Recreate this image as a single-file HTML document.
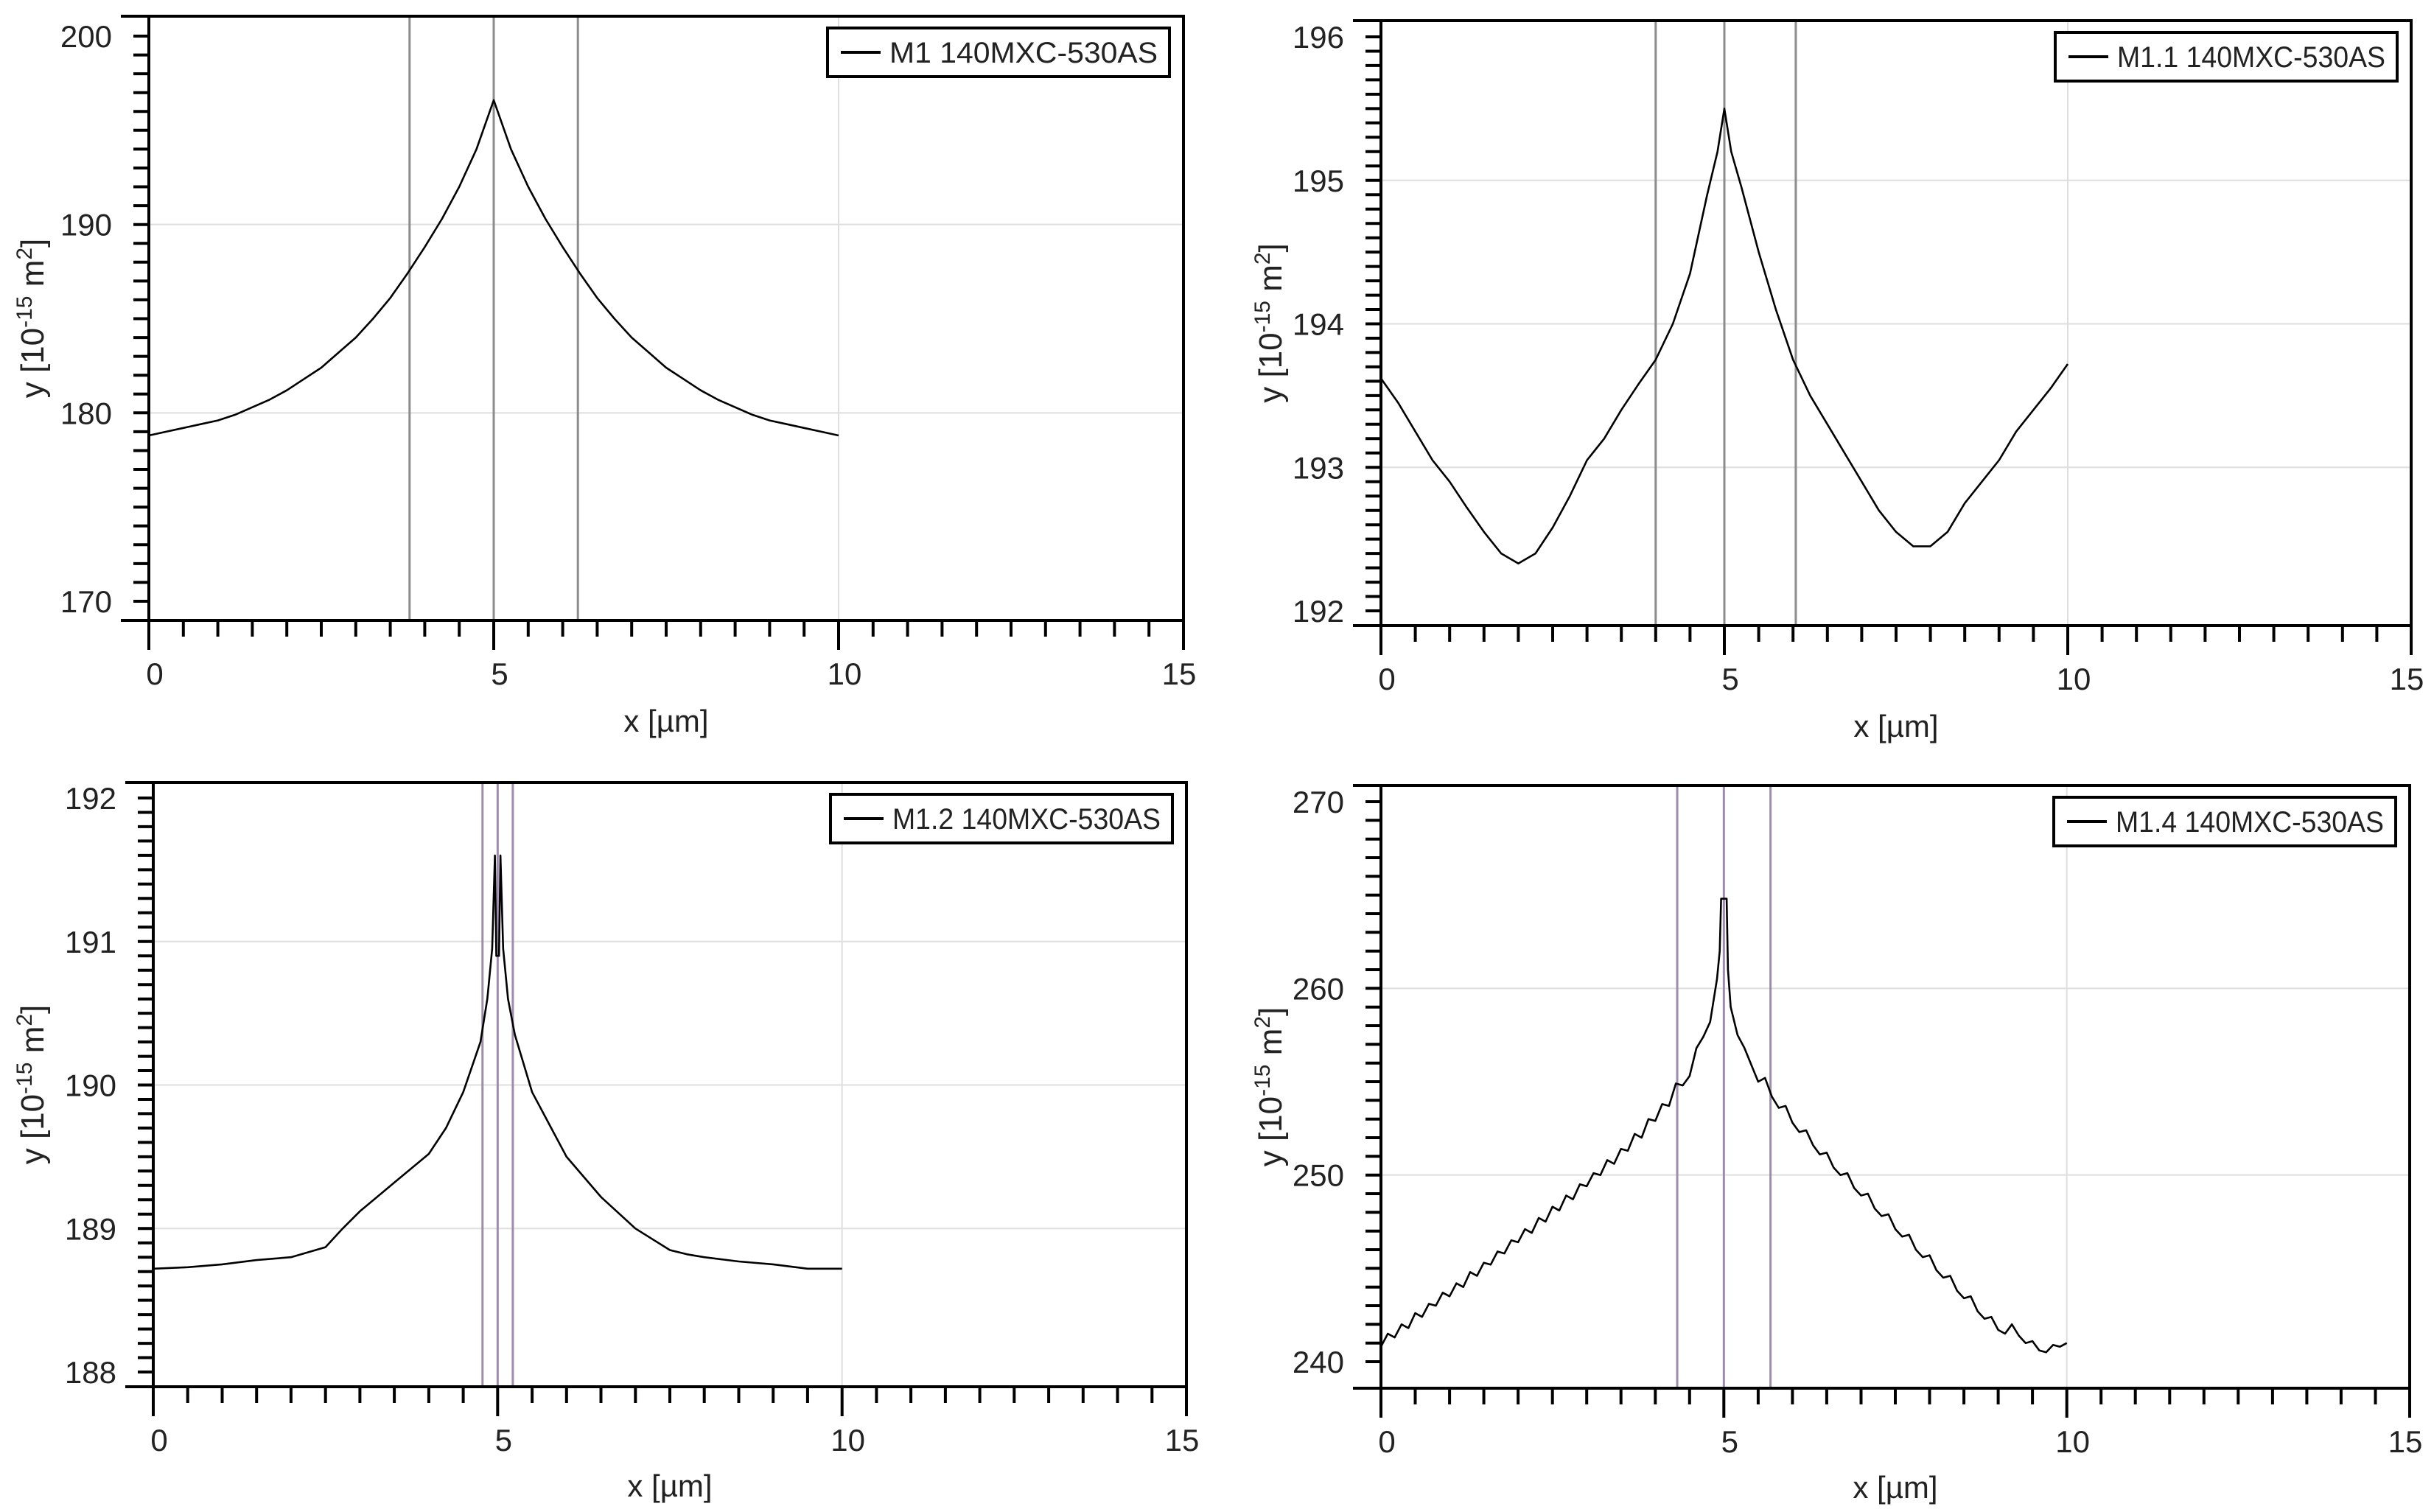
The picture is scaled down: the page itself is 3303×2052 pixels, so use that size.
<!DOCTYPE html>
<html><head><meta charset="utf-8"><style>
html,body{margin:0;padding:0;background:#fff;}
svg{display:block;font-family:"Liberation Sans",sans-serif;}
</style></head><body>
<svg id="chart" width="3303" height="2052" viewBox="0 0 3303 2052" xmlns="http://www.w3.org/2000/svg"></svg>
<script>
// ---- data ----
const tlX = [0,0.25,0.5,0.75,1,1.25,1.5,1.75,2,2.25,2.5,2.75,3,3.25,3.5,3.75,4,4.25,4.5,4.75,5,5.25,5.5,5.75,6,6.25,6.5,6.75,7,7.25,7.5,7.75,8,8.25,8.5,8.75,9,9.25,9.5,9.75,10];
const tlY = [178.8,179.0,179.2,179.4,179.6,179.9,180.3,180.7,181.2,181.8,182.4,183.2,184.0,185.0,186.1,187.4,188.8,190.3,192.0,194.0,196.6,194.0,192.0,190.3,188.8,187.4,186.1,185.0,184.0,183.2,182.4,181.8,181.2,180.7,180.3,179.9,179.6,179.4,179.2,179.0,178.8];
const trX = [0,0.25,0.5,0.75,1,1.25,1.5,1.75,2,2.25,2.5,2.75,3,3.25,3.5,3.75,4,4.25,4.5,4.75,4.9,5,5.1,5.25,5.5,5.75,6,6.25,6.5,6.75,7,7.25,7.5,7.75,8,8.25,8.5,8.75,9,9.25,9.5,9.75,10];
const trY = [193.62,193.45,193.25,193.05,192.9,192.72,192.55,192.4,192.33,192.4,192.58,192.8,193.05,193.2,193.4,193.58,193.75,194.0,194.35,194.9,195.2,195.5,195.2,194.95,194.5,194.1,193.75,193.5,193.3,193.1,192.9,192.7,192.55,192.45,192.45,192.55,192.75,192.9,193.05,193.25,193.4,193.55,193.72];
const blX = [0,0.5,1,1.5,2,2.5,2.75,3,3.5,4,4.25,4.5,4.75,4.85,4.92,4.96,4.98,5.02,5.04,5.08,5.15,5.25,5.5,6,6.5,7,7.5,7.75,8,8.5,9,9.5,10];
const blY = [188.72,188.73,188.75,188.78,188.8,188.87,189.0,189.12,189.32,189.52,189.7,189.95,190.3,190.6,190.95,191.6,190.9,190.9,191.6,190.95,190.6,190.35,189.95,189.5,189.22,189.0,188.85,188.82,188.8,188.77,188.75,188.72,188.72];
const brX = [0,0.1,0.2,0.3,0.4,0.5,0.6,0.7,0.8,0.9,1.0,1.1,1.2,1.3,1.4,1.5,1.6,1.7,1.8,1.9,2.0,2.1,2.2,2.3,2.4,2.5,2.6,2.7,2.8,2.9,3.0,3.1,3.2,3.3,3.4,3.5,3.6,3.7,3.8,3.9,4.0,4.1,4.2,4.3,4.4,4.5,4.6,4.7,4.8,4.9,4.94,4.96,5.04,5.06,5.1,5.2,5.3,5.4,5.5,5.6,5.7,5.8,5.9,6.0,6.1,6.2,6.3,6.4,6.5,6.6,6.7,6.8,6.9,7.0,7.1,7.2,7.3,7.4,7.5,7.6,7.7,7.8,7.9,8.0,8.1,8.2,8.3,8.4,8.5,8.6,8.7,8.8,8.9,9.0,9.1,9.2,9.3,9.4,9.5,9.6,9.7,9.8,9.9,10];
const brY = [240.8,241.5,241.3,242.0,241.8,242.6,242.4,243.1,243.0,243.7,243.5,244.2,244.0,244.8,244.6,245.3,245.2,245.9,245.8,246.5,246.4,247.1,246.9,247.7,247.5,248.3,248.1,248.9,248.7,249.5,249.4,250.1,250.0,250.8,250.6,251.4,251.3,252.2,252.0,253.0,252.9,253.8,253.7,254.9,254.8,255.3,256.8,257.4,258.2,260.5,262.0,264.8,264.8,261.0,259.0,257.5,256.8,255.9,255.0,255.2,254.2,253.6,253.7,252.8,252.3,252.4,251.6,251.1,251.2,250.4,250.0,250.1,249.3,248.9,249.0,248.2,247.8,247.9,247.1,246.7,246.8,246.0,245.6,245.7,244.9,244.5,244.6,243.8,243.4,243.5,242.7,242.3,242.4,241.7,241.5,242.0,241.4,241.0,241.1,240.6,240.5,240.9,240.8,241.0];
const xTickLabels = [0,5,10,15];
const tlYTicks = [170,180,190,200];
const trYTicks = [192,193,194,195,196];
const blYTicks = [188,189,190,191,192];
const brYTicks = [240,250,260,270];
const tlMarkers = [3.78,5,6.22];
const trMarkers = [4.0,5,6.04];
const blMarkers = [4.78,5,5.22];
const brMarkers = [4.32,5,5.68];

const NS = "http://www.w3.org/2000/svg";
const svg = document.getElementById('chart');
function mk(tag, attrs, parent){
  const e = document.createElementNS(NS, tag);
  for (const k in attrs) e.setAttribute(k, attrs[k]);
  (parent||svg).appendChild(e);
  return e;
}
const panels = [
  {id:'top-left', L:202,R:1606,T:22,A:842,yLo:170,pLo:816,yHi:200,pHi:49,minor:1,xs:tlX,ys:tlY,ticks:tlYTicks,markers:tlMarkers,mcol:'#8c8c8c',legend:'M1 140MXC-530AS',xl:914,xt:978,yt:44},
  {id:'top-right', L:1874,R:3272,T:28,A:849,yLo:192,pLo:829,yHi:196,pHi:50,minor:0.1,xs:trX,ys:trY,ticks:trYTicks,markers:trMarkers,mcol:'#8c8c8c',legend:'M1.1 140MXC-530AS',xl:921,xt:985,yt:1724},
  {id:'bottom-left', L:208,R:1610,T:1062,A:1882,yLo:188,pLo:1862,yHi:192,pHi:1083,minor:0.1,xs:blX,ys:blY,ticks:blYTicks,markers:blMarkers,mcol:'#9d8caa',legend:'M1.2 140MXC-530AS',xl:1954,xt:2016,yt:44},
  {id:'bottom-right', L:1874,R:3270,T:1066,A:1884,yLo:240,pLo:1848,yHi:270,pHi:1088,minor:1,xs:brX,ys:brY,ticks:brYTicks,markers:brMarkers,mcol:'#9d8caa',legend:'M1.4 140MXC-530AS',xl:1956,xt:2018,yt:1724}
];
panels.forEach(p=>{
  const g = mk('g',{});
  
  
  const sx = v => p.L + (v/15)*(p.R-p.L);
  const sy = v => p.pLo + (v-p.yLo)/(p.yHi-p.yLo)*(p.pHi-p.pLo);
  p.ticks.forEach(t=>{ if(t!==p.yLo && t!==p.yHi){ const l=mk('line',{x1:p.L,x2:p.R,y1:sy(t),y2:sy(t),stroke:'#dedede','stroke-width':2},g);   }});
  [5,10].forEach(t=>{ const l=mk('line',{x1:sx(t),x2:sx(t),y1:p.T,y2:p.A,stroke:'#dedede','stroke-width':2},g);   });
  p.markers.forEach(m=>{ const l=mk('line',{x1:sx(m),x2:sx(m),y1:p.T,y2:p.A,stroke:p.mcol,'stroke-width':3},g);   });
  const d = p.xs.map((x,i)=>(i?'L':'M')+sx(x).toFixed(1)+' '+sy(p.ys[i]).toFixed(1)).join(' ');
  const c = mk('path',{d:d,fill:'none',stroke:'#000','stroke-width':2.6,'stroke-linejoin':'round'},g);
  
  
  const fr = mk('path',{d:`M${p.L-38} ${p.T} H${p.R} V${p.A} M${p.L-38} ${p.A} H${p.R} M${p.L} ${p.T} V${p.A+40}`,fill:'none',stroke:'#000','stroke-width':4},g);
  
  
  let tp='';
  const n = Math.round((p.yHi-p.yLo)/p.minor);
  for(let i=0;i<=n;i++){ const v=p.yLo+i*p.minor; tp+=`M${p.L-21} ${sy(v).toFixed(1)} H${p.L}`; }
  for(let i=1;i<30;i++){ const v=i*0.5; const len=(i%10===0)?40:22; tp+=`M${sx(v).toFixed(1)} ${p.A} V${p.A+len}`; }
  const tk = mk('path',{d:tp,stroke:'#000','stroke-width':4,fill:'none'},g);
  
  
  mk('line',{x1:p.R,x2:p.R,y1:p.A,y2:p.A+40,stroke:'#000','stroke-width':4},g);
  p.ticks.forEach(t=>{ const tx=mk('text',{x:p.L-50,y:sy(t)+15,'text-anchor':'end','font-size':42,fill:'#222'},g); tx.textContent=t;   });
  xTickLabels.forEach(t=>{ const tx=mk('text',{x:sx(t)+(t===15?-6:8),y:p.xl+15,'text-anchor':'middle','font-size':42,fill:'#222'},g); tx.textContent=t;   });
  const xt = mk('text',{x:(p.L+p.R)/2,y:p.xt+15,'text-anchor':'middle','font-size':42,fill:'#222'},g);
  xt.textContent='x [µm]';
  
  
  const cy=(p.T+p.A)/2;
  const yt = mk('text',{x:p.yt+15,y:cy,transform:`rotate(-90 ${p.yt+15} ${cy})`,'text-anchor':'middle','font-size':44,fill:'#222'},g);
  
  
  yt.innerHTML='y [10<tspan font-size="30" dy="-16">-15</tspan><tspan dy="16"> m</tspan><tspan font-size="30" dy="-16">2</tspan><tspan dy="16">]</tspan>';
  const lw = 464, lh=66, lx=p.R-19-lw, ly=p.T+16;
  const lg = mk('g',{},g);
  
  
  mk('rect',{x:lx,y:ly,width:lw,height:lh,fill:'#fff',stroke:'#000','stroke-width':4},lg);
  mk('line',{x1:lx+18,x2:lx+72,y1:ly+33,y2:ly+33,stroke:'#000','stroke-width':4},lg);
  const lt = mk('text',{x:lx+84,y:ly+47,'font-size':40,fill:'#222',textLength:lw-100,lengthAdjust:'spacingAndGlyphs'},lg);
  lt.textContent=p.legend;
  
  
});
</script>
</body></html>
